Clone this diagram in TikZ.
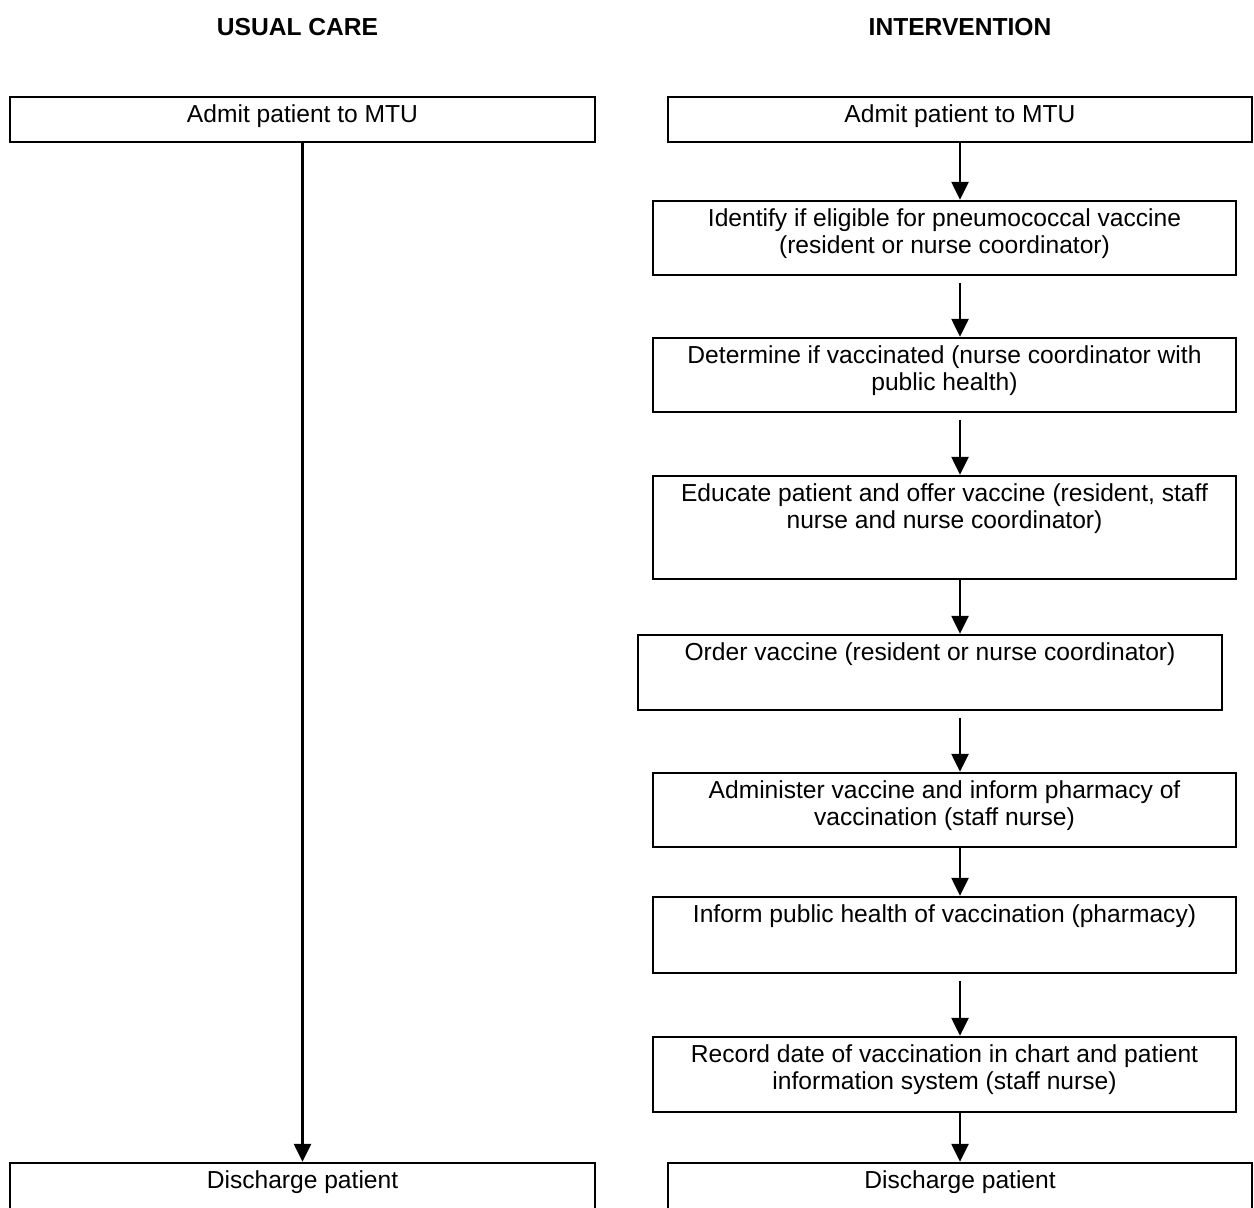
\documentclass[tikz,border=0pt]{standalone}
\usepackage{fontspec}
\setmainfont{Liberation Sans}
\usetikzlibrary{arrows.meta}
% text set at the top of a box of fixed size
\newcommand{\boxtxt}[3]{\parbox[c][#2][t]{#1}{\centering\vspace*{3.6pt}\strut #3}}
\tikzset{
  stepbox/.style={draw, line width=1.35pt, inner sep=0pt},
  flow/.style={line width=1.35pt, -{Triangle[width=0.34cm,length=0.36cm]}},
  colhead/.style={font=\fontsize{14}{15.5}\selectfont\bfseries}
}
\begin{document}
\begin{tikzpicture}[x=0.02cm, y=-0.02cm, font=\fontsize{14}{15.5}\selectfont]
\clip (0,0) rectangle (1254,1207);

\node[colhead] (uchead) at (297.5,27) {USUAL CARE};
\node[colhead] (ivhead) at (960,27) {INTERVENTION};

% usual care
\node[stepbox] (ucadmit) at (302.5,119.5) {\boxtxt{11.7cm}{0.9cm}{Admit patient to MTU}};
\node[stepbox] (ucdischarge) at (302.5,1198) {\boxtxt{11.7cm}{1.4cm}{Discharge patient}};
\draw[flow] (ucadmit) -- (ucdischarge);

% intervention
\node[stepbox] (ivadmit) at (960,119.5) {\boxtxt{11.68cm}{0.9cm}{Admit patient to MTU}};
\node[stepbox] (identify) at (944.5,238) {\boxtxt{11.66cm}{1.48cm}{Identify if eligible for pneumococcal vaccine\\(resident or nurse coordinator)}};
\node[stepbox] (determine) at (944.5,375) {\boxtxt{11.66cm}{1.48cm}{Determine if vaccinated (nurse coordinator with\\public health)}};
\node[stepbox] (educate) at (944.5,527.5) {\boxtxt{11.66cm}{2.06cm}{Educate patient and offer vaccine (resident, staff\\nurse and nurse coordinator)}};
\node[stepbox] (order) at (930,672.5) {\boxtxt{11.68cm}{1.5cm}{Order vaccine (resident or nurse coordinator)}};
\node[stepbox] (administer) at (944.5,810) {\boxtxt{11.66cm}{1.48cm}{Administer vaccine and inform pharmacy of\\vaccination (staff nurse)}};
\node[stepbox] (inform) at (944.5,935) {\boxtxt{11.66cm}{1.52cm}{Inform public health of vaccination (pharmacy)}};
\node[stepbox] (record) at (944.5,1074.5) {\boxtxt{11.66cm}{1.5cm}{Record date of vaccination in chart and patient\\information system (staff nurse)}};
\node[stepbox] (ivdischarge) at (960,1198) {\boxtxt{11.68cm}{1.4cm}{Discharge patient}};

\draw[flow] (ivadmit) -- (identify.north -| ivadmit);
\draw[flow, shorten <=0.13cm] (identify.south -| ivadmit) -- (determine.north -| ivadmit);
\draw[flow, shorten <=0.13cm] (determine.south -| ivadmit) -- (educate.north -| ivadmit);
\draw[flow] (educate.south -| ivadmit) -- (order.north -| ivadmit);
\draw[flow, shorten <=0.13cm] (order.south -| ivadmit) -- (administer.north -| ivadmit);
\draw[flow] (administer.south -| ivadmit) -- (inform.north -| ivadmit);
\draw[flow, shorten <=0.13cm] (inform.south -| ivadmit) -- (record.north -| ivadmit);
\draw[flow] (record.south -| ivadmit) -- (ivdischarge);
\end{tikzpicture}
\end{document}
